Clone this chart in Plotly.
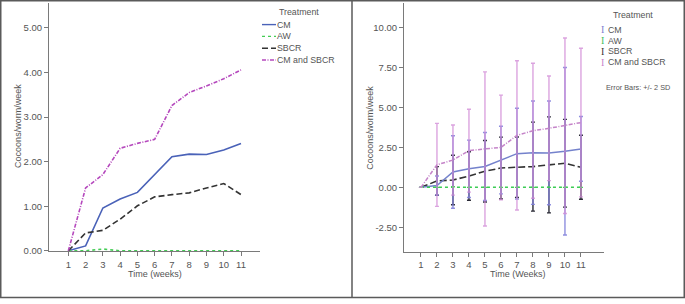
import plotly.graph_objects as go

W, H = 685, 304

# ---------------- data ----------------
weeks = [1, 2, 3, 4, 5, 6, 7, 8, 9, 10, 11]
series_names = ["CM", "AW", "SBCR", "CM and SBCR"]
cm = [0.0, 0.11, 0.96, 1.16, 1.31, 1.71, 2.11, 2.17, 2.16, 2.26, 2.41]
aw = [0.0, 0.0, 0.04, 0.0, 0.0, 0.0, 0.0, 0.0, 0.0, 0.0, 0.0]
sbcr = [0.0, 0.40, 0.46, 0.71, 1.01, 1.21, 1.26, 1.30, 1.41, 1.51, 1.26]
cm_sbcr = [0.0, 1.41, 1.71, 2.30, 2.41, 2.50, 3.26, 3.55, 3.70, 3.86, 4.06]
# error bars: +/- 2 SD
cm_2sd = [0.0, 0.60, 2.27, 1.80, 2.13, 2.12, 2.85, 3.24, 3.25, 5.25, 2.03]
aw_2sd = [0.0, 0.0, 0.0, 0.0, 0.0, 0.0, 0.0, 0.0, 0.0, 0.0, 0.0]
sbcr_2sd = [0.0, 0.90, 1.55, 1.52, 1.93, 1.94, 1.90, 2.79, 3.01, 2.75, 2.01]
cm_sbcr_2sd = [0.0, 2.60, 2.20, 2.60, 4.83, 3.28, 4.68, 4.23, 3.28, 5.50, 4.66]

left_yticks = [0, 1, 2, 3, 4, 5]
right_yticks = [-2.5, 0, 2.5, 5, 7.5, 10]

FONT = "Liberation Sans, Arial, sans-serif"
TXT = "#555555"
AXC = "#7a7a7a"


def fx(px):
    return px / W


def fy(py):
    return 1 - py / H


fig = go.Figure()

# ---------- left panel ----------
left_styles = [
    dict(color="#4a62b8", dash="solid", width=1.6),
    dict(color="#44cc55", dash="dot", width=1.6),
    dict(color="#333333", dash="6px,3px", width=1.6),
    dict(color="#b548bd", dash="4px,1.5px,1px,1.5px", width=1.6),
]
for name, vals, st in zip(series_names, [cm, aw, sbcr, cm_sbcr], left_styles):
    fig.add_trace(go.Scatter(x=weeks, y=vals, mode="lines", name=name, line=st,
                             xaxis="x", yaxis="y", showlegend=False))

# ---------- right panel ----------
right_styles = [
    dict(color="#7482cc", dash="solid", width=1.5),
    dict(color="#3ccc55", dash="dot", width=1.5),
    dict(color="#333333", dash="7px,3px", width=1.6),
    dict(color="#c584c9", dash="4px,1.5px,1px,1.5px", width=1.5),
]
err_colors = ["rgba(130,130,220,0.9)", "#44cc55", "#2a2a36", "rgba(210,140,215,0.8)"]
order = [2, 0, 1, 3]
all_vals = [cm, aw, sbcr, cm_sbcr]
all_err = [cm_2sd, aw_2sd, sbcr_2sd, cm_sbcr_2sd]
for i in order:
    fig.add_trace(go.Scatter(
        x=weeks, y=all_vals[i], mode="lines", name=series_names[i],
        line=right_styles[i], xaxis="x2", yaxis="y2", showlegend=False,
        error_y=dict(type="data", array=all_err[i], visible=True,
                     color=err_colors[i], thickness=1.4, width=2)))

axis_common = dict(showgrid=False, zeroline=False, showline=True, linecolor=AXC,
                   linewidth=1, ticks="outside", ticklen=4, tickcolor=AXC,
                   tickwidth=1, tickfont=dict(family=FONT, size=9.5, color=TXT))

fig.update_layout(
    width=W, height=H, autosize=False,
    margin=dict(l=0, r=0, t=0, b=0),
    paper_bgcolor="white", plot_bgcolor="white",
    showlegend=False,
    xaxis=dict(domain=[fx(49), fx(260)], range=[-0.12, 12.1], anchor="y",
               tickvals=weeks, ticktext=[str(w) for w in weeks], **axis_common),
    yaxis=dict(domain=[fy(255.5), fy(3.5)], range=[-0.011, 5.55], anchor="x",
               tickvals=left_yticks, ticktext=[f"{v:.2f}" for v in left_yticks],
               **axis_common),
    xaxis2=dict(domain=[fx(404), fx(604)], range=[-0.06, 12.44], anchor="y2",
                tickvals=weeks, ticktext=[str(w) for w in weeks], **axis_common),
    yaxis2=dict(domain=[fy(256), fy(3.3)], range=[-4.04, 11.54], anchor="x2",
                tickvals=right_yticks, ticktext=[f"{v:.2f}" for v in right_yticks],
                **axis_common),
)

ann = []


def text(x, y, s, size=8.8, xanchor="center", color=TXT, family=FONT):
    ann.append(dict(xref="paper", yref="paper", x=fx(x), y=fy(y), text=s,
                    showarrow=False, xanchor=xanchor, yanchor="middle",
                    font=dict(family=family, size=size, color=color)))


# axis titles
text(18, 128, "Cocoons/worm/week", size=9)
ann[-1]["textangle"] = -90
text(155, 279, "Time (weeks)", size=9)
text(370, 130, "Cocoons/worm/week", size=9)
ann[-1]["textangle"] = -90
text(518, 279, "Time (Weeks)", size=9)

# left legend
text(277, 12, "Treatment", xanchor="left")
leg_y = [25, 37, 49, 61]
shapes = []
for name, st, yy in zip(series_names, left_styles, leg_y):
    text(275, yy, name, xanchor="left")
    shapes.append(dict(type="line", xref="paper", yref="paper",
                       x0=fx(262), x1=fx(276), y0=fy(yy), y1=fy(yy),
                       line=dict(color=st["color"], dash=st["dash"], width=1.4)))

# right legend
text(611, 15, "Treatment", xanchor="left")
leg_cols = ["#7f80d0", "#44c060", "#333333", "#c784cc"]
leg_y2 = [30, 41.3, 52.3, 63.5]
for name, c, yy in zip(series_names, leg_cols, leg_y2):
    text(599, yy, "I", xanchor="left", color=c, family="Liberation Serif, serif", size=10)
    text(606, yy, name, xanchor="left")
text(604, 89, "Error Bars: +/- 2 SD", xanchor="left", size=7.3)

# frame and divider
frame = dict(color="#5a5a5a", width=1.5)
shapes += [
    dict(type="rect", xref="paper", yref="paper", x0=fx(0.75), x1=fx(684.25),
         y0=fy(302.5), y1=fy(0.75), line=frame),
    dict(type="line", xref="paper", yref="paper", x0=fx(352), x1=fx(352),
         y0=fy(302.5), y1=fy(0.75), line=frame),
]

fig.update_layout(annotations=ann, shapes=shapes)
fig.write_html("out.html",
               config={"displayModeBar": False, "responsive": False},
               post_script="document.body.style.margin='0';document.body.style.padding='0';document.body.style.overflow='hidden';")
